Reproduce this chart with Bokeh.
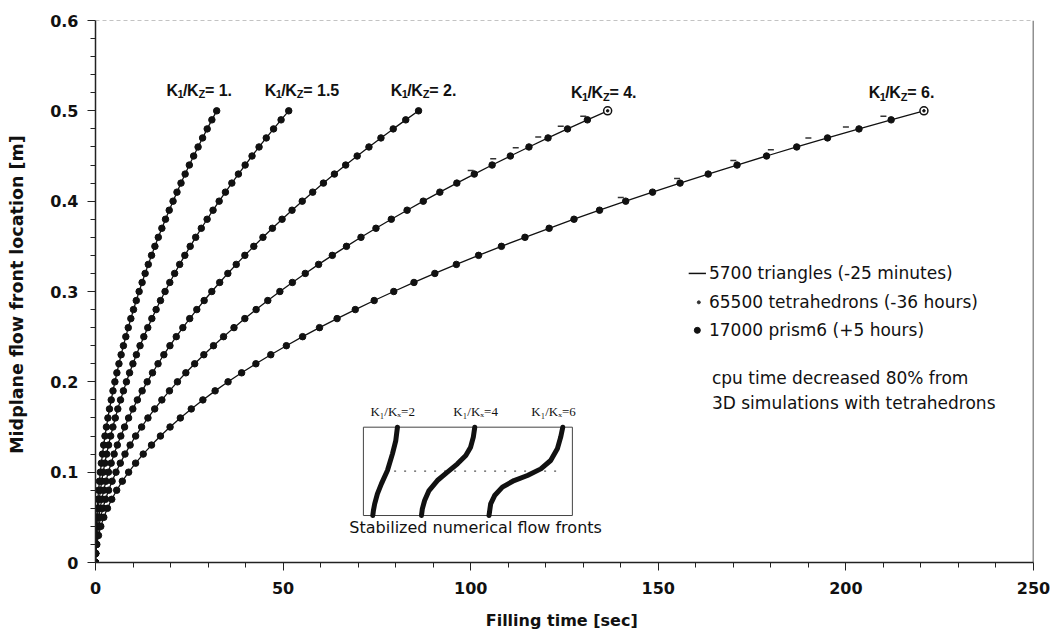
from bokeh.plotting import figure
from bokeh.models import Range1d, Span, ColumnDataSource, FixedTicker, NumeralTickFormatter
from bokeh.core.properties import value
from bokeh.embed import file_html
from bokeh.resources import INLINE

# ---------------- data ----------------
h_pts = [0.00, 0.01, 0.02, 0.03, 0.04, 0.05, 0.06, 0.07, 0.08, 0.09,
         0.10, 0.11, 0.12, 0.13, 0.14, 0.15, 0.16, 0.17, 0.18, 0.19,
         0.20, 0.21, 0.22, 0.23, 0.24, 0.25, 0.26, 0.27, 0.28, 0.29,
         0.30, 0.31, 0.32, 0.33, 0.34, 0.35, 0.36, 0.37, 0.38, 0.39,
         0.40, 0.41, 0.42, 0.43, 0.44, 0.45, 0.46, 0.47, 0.48, 0.49, 0.50]

t_k1 = [0, 0.01, 0.05, 0.12, 0.21, 0.32, 0.47, 0.63, 0.83, 1.05,
        1.29, 1.56, 1.86, 2.18, 2.53, 2.91, 3.31, 3.73, 4.19, 4.66,
        5.17, 5.70, 6.25, 6.83, 7.44, 8.08, 8.73, 9.42, 10.13, 10.87,
        11.63, 12.42, 13.23, 14.07, 14.94, 15.83, 16.74, 17.69, 18.66, 19.65,
        20.67, 21.72, 22.79, 23.89, 25.01, 26.16, 27.34, 28.54, 29.77, 31.02, 32.30]
t_k15 = [0, 0.02, 0.08, 0.19, 0.33, 0.52, 0.74, 1.01, 1.32, 1.67,
         2.06, 2.49, 2.97, 3.48, 4.04, 4.64, 5.27, 5.95, 6.67, 7.44,
         8.24, 9.08, 9.97, 10.90, 11.87, 12.88, 13.93, 15.02, 16.15, 17.32,
         18.54, 19.80, 21.09, 22.43, 23.81, 25.24, 26.70, 28.20, 29.75, 31.33,
         32.96, 34.63, 36.34, 38.09, 39.88, 41.72, 43.59, 45.51, 47.46, 49.46, 51.50]
t_k2 = [0, 0.03, 0.14, 0.31, 0.55, 0.86, 1.24, 1.69, 2.20, 2.79,
        3.44, 4.17, 4.96, 5.82, 6.75, 7.75, 8.82, 9.95, 11.16, 12.43,
        13.78, 15.19, 16.67, 18.22, 19.84, 21.53, 23.28, 25.11, 27.00, 28.96,
        31.00, 33.10, 35.27, 37.51, 39.81, 42.19, 44.63, 47.15, 49.73, 52.38,
        55.10, 57.89, 60.75, 63.68, 66.68, 69.74, 72.88, 76.08, 79.35, 82.69, 86.10]
t_k4 = [0, 0.05, 0.22, 0.49, 0.87, 1.37, 1.97, 2.68, 3.49, 4.42,
        5.46, 6.61, 7.86, 9.23, 10.70, 12.29, 13.98, 15.78, 17.69, 19.71,
        21.84, 24.08, 26.43, 28.88, 31.45, 34.13, 36.91, 39.80, 42.81, 45.92,
        49.14, 52.47, 55.91, 59.46, 63.12, 66.89, 70.76, 74.75, 78.84, 83.05,
        87.36, 91.78, 96.31, 100.96, 105.71, 110.57, 115.53, 120.61, 125.80, 131.10, 136.50]
t_k6 = [0, 0.09, 0.35, 0.79, 1.41, 2.21, 3.18, 4.33, 5.65, 7.15,
        8.83, 10.69, 12.72, 14.93, 17.31, 19.87, 22.61, 25.52, 28.62, 31.88,
        35.33, 38.95, 42.75, 46.72, 50.87, 55.20, 59.70, 64.39, 69.24, 74.28,
        79.49, 84.88, 90.44, 96.18, 102.10, 108.19, 114.46, 120.91, 127.53, 134.34,
        141.31, 148.47, 155.80, 163.30, 170.99, 178.85, 186.89, 195.10, 203.49, 212.06, 220.80]

ratio_labels = ["1.", "1.5", "2.", "4.", "6."]

# tetrahedron results (visible where they depart from the curves)
tet_k4_t = [100, 106, 112, 118, 124, 130]
tet_k4_h = [0.434, 0.447, 0.459, 0.471, 0.483, 0.494]
tet_k6_t = [140, 155, 170, 180, 190, 200, 210]
tet_k6_h = [0.404, 0.425, 0.445, 0.457, 0.470, 0.482, 0.494]

# axis ticks
x_major = [0, 50, 100, 150, 200, 250]
x_minor = [10, 20, 30, 40, 60, 70, 80, 90, 110, 120, 130, 140,
           160, 170, 180, 190, 210, 220, 230, 240]
y_major = [0, 0.1, 0.2, 0.3, 0.4, 0.5, 0.6]
y_minor = [0.02, 0.04, 0.06, 0.08, 0.12, 0.14, 0.16, 0.18, 0.22, 0.24, 0.26, 0.28,
           0.32, 0.34, 0.36, 0.38, 0.42, 0.44, 0.46, 0.48, 0.52, 0.54, 0.56, 0.58]

legend_lines = ["5700 triangles  (-25 minutes)",
                "65500 tetrahedrons (-36 hours)",
                "17000 prism6   (+5 hours)"]
note_lines = ["cpu time decreased 80% from",
              "3D simulations with tetrahedrons"]

# inset: stabilized numerical flow fronts (inset-local coordinates 0..1)
inset_labels = ["K\u2081/K\u2093=2", "K\u2081/K\u2093=4", "K\u2081/K\u2093=6"]
front_k2_x = [0.163, 0.159, 0.155, 0.139, 0.115, 0.086, 0.067, 0.054, 0.048, 0.045]
front_k2_y = [1.000, 0.925, 0.849, 0.698, 0.509, 0.358, 0.245, 0.132, 0.057, 0.000]
front_k4_x = [0.533, 0.526, 0.513, 0.490, 0.450, 0.402, 0.354, 0.314, 0.293, 0.282, 0.278]
front_k4_y = [1.000, 0.887, 0.774, 0.679, 0.585, 0.491, 0.396, 0.283, 0.170, 0.075, 0.000]
front_k6_x = [0.954, 0.944, 0.928, 0.896, 0.849, 0.785, 0.721, 0.665, 0.628, 0.609, 0.601]
front_k6_y = [1.000, 0.887, 0.755, 0.623, 0.528, 0.453, 0.396, 0.321, 0.226, 0.132, 0.000]
midplane_x = [0.147, 0.928]
midplane_y = [0.502, 0.502]
inset_caption = "Stabilized numerical flow fronts"

# ---------------- styling / layout constants ----------------
INK = "#111111"
X_MAX, Y_MAX = 250, 0.6
label_pos_x = [18.9, 45.1, 78.7, 126.7, 206.1]
label_pos_y = [0.523, 0.523, 0.523, 0.520, 0.520]
inset_box = (71.4, 127.1, 0.052, 0.1498)   # x0, x1, y0, y1 in main data units

p = figure(width=1051, height=641,
           x_range=Range1d(0, X_MAX), y_range=Range1d(0, Y_MAX),
           output_backend="svg", toolbar_location=None,
           min_border_left=95, min_border_right=18,
           min_border_top=20, min_border_bottom=79)
p.outline_line_color = None
p.grid.visible = False
p.background_fill_color = "white"
p.border_fill_color = "white"

p.xaxis.ticker = FixedTicker(ticks=x_major, minor_ticks=x_minor)
p.yaxis.ticker = FixedTicker(ticks=y_major, minor_ticks=y_minor)
p.yaxis.formatter = NumeralTickFormatter(format="0.[0]")
p.xaxis.axis_label = "Filling time  [sec]"
p.yaxis.axis_label = "Midplane flow front location  [m]"
for ax in (p.xaxis[0], p.yaxis[0]):
    ax.axis_line_color = "#222222"
    ax.axis_line_width = 1.5
    ax.major_tick_line_color = "#222222"
    ax.minor_tick_line_color = "#222222"
    ax.major_tick_out = 8
    ax.major_tick_in = 0
    ax.minor_tick_out = 5
    ax.minor_tick_in = 0
    ax.major_label_text_font = "DejaVu Sans"
    ax.major_label_text_font_style = "bold"
    ax.major_label_text_font_size = "16px"
    ax.major_label_text_color = INK
    ax.axis_label_text_font = "DejaVu Sans"
    ax.axis_label_text_font_style = "bold"
    ax.axis_label_text_color = INK
p.yaxis.major_label_standoff = 9
p.yaxis.axis_label_standoff = 20
p.yaxis.axis_label_text_font_size = "17.5px"
p.xaxis.major_label_standoff = 11
p.xaxis.axis_label_standoff = 14
p.xaxis.axis_label_text_font_size = "16px"

p.add_layout(Span(location=X_MAX, dimension="height", line_color="#222222", line_width=1.5))
p.add_layout(Span(location=Y_MAX, dimension="width", line_color="#888888", line_width=1, line_dash="4 3"))

# curves: triangles (line) and prism6 (markers)
curves = [t_k1, t_k15, t_k2, t_k4, t_k6]
for t in curves:
    p.line(t, h_pts, line_color=INK, line_width=1.3)
    p.scatter(t, h_pts, marker="circle", size=6.5, color=INK)
# open end markers on the K=4 and K=6 curves
p.scatter([t_k4[-1], t_k6[-1]], [h_pts[-1], h_pts[-1]], marker="circle", size=8,
          fill_color="white", line_color=INK, line_width=1.5)
p.scatter([t_k4[-1], t_k6[-1]], [h_pts[-1], h_pts[-1]], marker="circle", size=2.5, color=INK)
# tetrahedron results
p.scatter(tet_k4_t, tet_k4_h, marker="dash", size=6, line_color="#333333", line_width=1.5)
p.scatter(tet_k6_t, tet_k6_h, marker="dash", size=6, line_color="#333333", line_width=1.5)

# curve labels  K1/KZ= r
pieces = [("K", 0, 0, "16px"), ("1", 11, 4, "11px"), ("/", 16.5, 0, "16px"),
          ("K", 20.5, 0, "16px"), ("Z", 32, 4, "11px")]
lx, ly, lt, lxo, lyo, lfs = [], [], [], [], [], []
for x, y, r in zip(label_pos_x, label_pos_y, ratio_labels):
    for txt, xo, yo, fs in pieces + [("= " + r, 38.5, 0, "16px")]:
        lx.append(x); ly.append(y); lt.append(txt)
        lxo.append(xo); lyo.append(yo); lfs.append(fs)
lab_src = ColumnDataSource(dict(x=lx, y=ly, text=lt, xo=lxo, yo=lyo, fs=lfs))
p.text(x="x", y="y", text="text", x_offset="xo", y_offset="yo", text_font_size="fs",
       source=lab_src, text_font=value("Liberation Sans"), text_font_style="bold",
       text_color=INK, text_align="left", text_baseline="middle")

# legend block
leg_x = 163.5
p.segment(x0=[158.1], y0=[0.320], x1=[162.7], y1=[0.320], line_color=INK, line_width=1.5)
p.scatter([160.8], [0.288], marker="circle", size=3, color="#333333")
p.scatter([160.4], [0.257], marker="circle", size=6, color=INK)
p.text(x=[leg_x] * 3, y=[0.320, 0.288, 0.257], text=legend_lines,
       text_font=value("DejaVu Sans"), text_font_size="17px", text_color=INK,
       text_align="left", text_baseline="middle")
p.text(x=[164.3] * 2, y=[0.204, 0.177], text=note_lines,
       text_font=value("DejaVu Sans"), text_font_size="17px", text_color=INK,
       text_align="left", text_baseline="middle")

# inset, drawn through extra ranges mapping the inset box to 0..1
x0, x1, y0, y1 = inset_box
p.extra_x_ranges = {"ix": Range1d(start=(0 - x0) / (x1 - x0), end=(X_MAX - x0) / (x1 - x0))}
p.extra_y_ranges = {"iy": Range1d(start=(0 - y0) / (y1 - y0), end=(Y_MAX - y0) / (y1 - y0))}
kw = dict(x_range_name="ix", y_range_name="iy")
p.quad(left=[0], right=[1], bottom=[0], top=[1], fill_color="white",
       line_color="#444444", line_width=1, **kw)
p.line(midplane_x, midplane_y, line_color="#555555", line_width=1.3, line_dash="2 8", **kw)
for fx, fy in [(front_k2_x, front_k2_y), (front_k4_x, front_k4_y), (front_k6_x, front_k6_y)]:
    p.line(fx, fy, line_color=INK, line_width=5, line_join="round", line_cap="round", **kw)
p.text(x=[0.14, 0.537, 0.91], y=[1.18] * 3, text=inset_labels,
       text_font=value("Liberation Serif"), text_font_size="13px", text_color=INK,
       text_align="center", text_baseline="middle", **kw)
p.text(x=[0.537], y=[-0.132], text=[inset_caption],
       text_font=value("DejaVu Sans"), text_font_size="16px", text_color=INK,
       text_align="center", text_baseline="middle", **kw)

open("out.html", "w").write(file_html(p, INLINE))
